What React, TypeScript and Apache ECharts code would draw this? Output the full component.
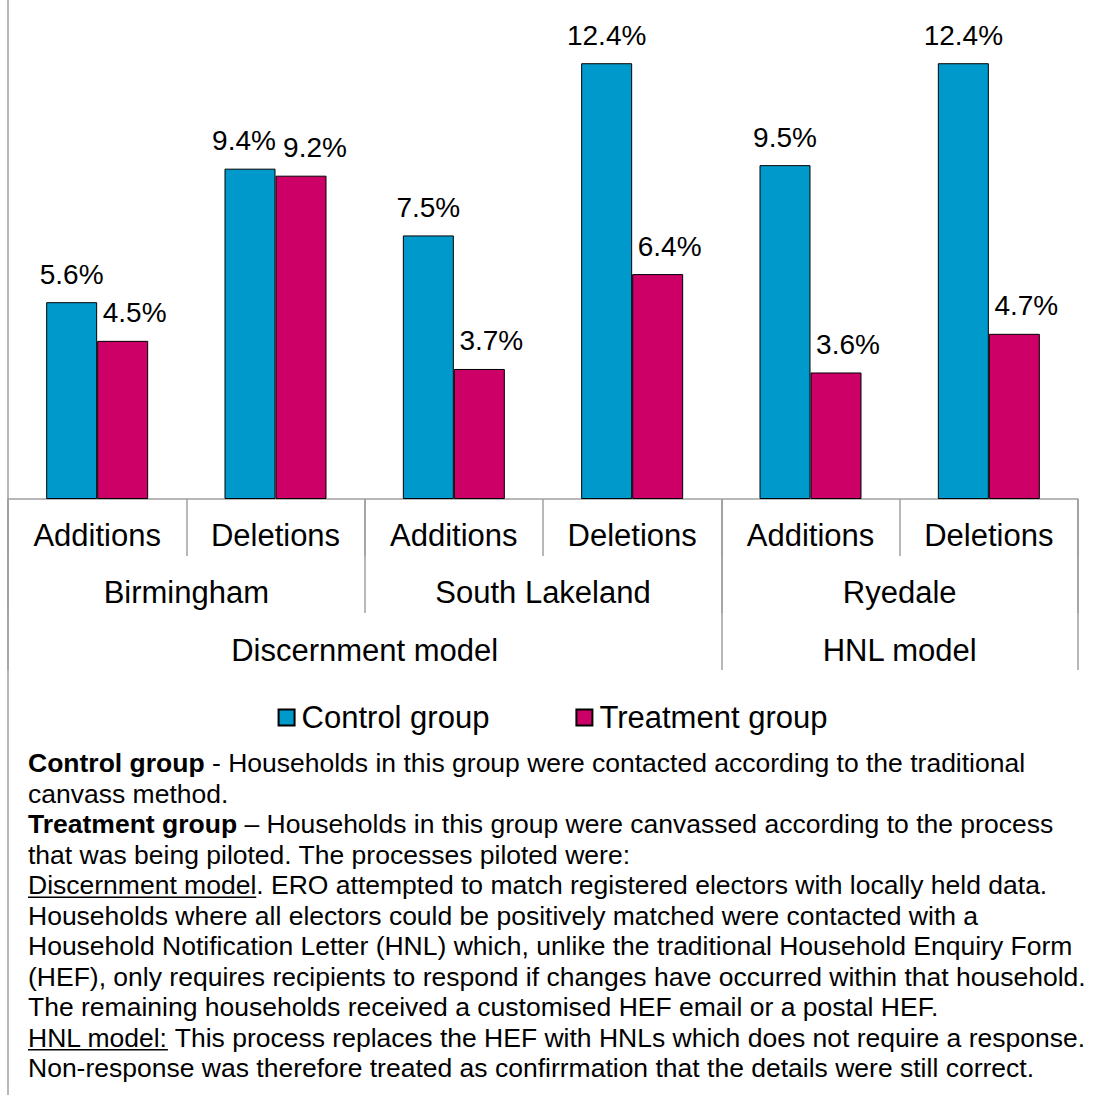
import { useEffect, useRef } from "react";
import * as echarts from "echarts";

// Category levels (innermost first)
const categories = ["Additions", "Deletions", "Additions", "Deletions", "Additions", "Deletions"];
const regions = ["Birmingham", "South Lakeland", "Ryedale"];
const regionSpans = [2, 2, 2];
const models = ["Discernment model", "HNL model"];
const modelSpans = [4, 2];

// Share of records changed (%)
const seriesNames = ["Control group", "Treatment group"];
const controlGroup = [5.6, 9.4, 7.5, 12.4, 9.5, 12.4];
const treatmentGroup = [4.5, 9.2, 3.7, 6.4, 3.6, 4.7];

// Explanatory notes: each line is a list of [style, text] runs
const notes: [string, string][][] = [
  [["b", "Control group"], ["n", " - Households in this group were contacted according to the traditional"]],
  [["n", "canvass method."]],
  [["b", "Treatment group"], ["n", " \u2013 Households in this group were canvassed according to the process"]],
  [["n", "that was being piloted. The processes piloted were:"]],
  [["u", "Discernment model"], ["n", ". ERO attempted to match registered electors with locally held data."]],
  [["n", "Households where all electors could be positively matched were contacted with a"]],
  [["n", "Household Notification Letter (HNL) which, unlike the traditional Household Enquiry Form"]],
  [["n", "(HEF), only requires recipients to respond if changes have occurred within that household."]],
  [["n", "The remaining households received a customised HEF email or a postal HEF."]],
  [["u", "HNL model:"], ["n", " This process replaces the HEF with HNLs which does not require a response."]],
  [["n", "Non-response was therefore treated as confirrmation that the details were still correct."]],
];

const FONT = '"Liberation Sans", Arial, Helvetica, sans-serif';
const AXIS_COLOR = "#a0a0a0";
const BODY_SIZE = 26.5;
const BODY_LINE = 30.5;
const BODY_X = 28;
const BODY_FIRST_CENTER = 763;

function boundaries(spans: number[]): number[] {
  const out = [0];
  spans.forEach((s) => out.push(out[out.length - 1] + s));
  return out;
}
function centers(spans: number[]): number[] {
  const b = boundaries(spans);
  return spans.map((s, i) => b[i] + s / 2);
}

export default function App() {
  const ref = useRef<HTMLDivElement>(null);

  useEffect(() => {
    if (!ref.current) return;
    const chart = echarts.init(ref.current, undefined, { renderer: "svg" });

    const axisLine = { color: AXIS_COLOR, width: 1.5 };
    const regionTicks = boundaries(regionSpans);
    const regionMid = centers(regionSpans);
    const modelTicks = boundaries(modelSpans);
    const modelMid = centers(modelSpans);

    const ctx = document.createElement("canvas").getContext("2d")!;
    ctx.font = `${BODY_SIZE}px ${FONT}`;

    const rich = {
      n: { fontSize: BODY_SIZE, fontFamily: FONT, lineHeight: BODY_LINE, fill: "#000" },
      u: { fontSize: BODY_SIZE, fontFamily: FONT, lineHeight: BODY_LINE, fill: "#000" },
      b: { fontSize: BODY_SIZE, fontFamily: FONT, lineHeight: BODY_LINE, fill: "#000", fontWeight: "bold" },
    };

    const noteElements: any[] = [];
    notes.forEach((runs, i) => {
      const cy = BODY_FIRST_CENTER + i * BODY_LINE;
      noteElements.push({
        type: "text",
        x: BODY_X,
        y: cy,
        style: {
          text: runs.map(([s, t]) => `{${s}|${t}}`).join(""),
          rich,
          verticalAlign: "middle",
          align: "left",
        },
      });
      let x = BODY_X;
      runs.forEach(([s, t]) => {
        const w = ctx.measureText(t).width;
        if (s === "u") {
          const uy = cy + BODY_SIZE * 0.3465 + 3;
          noteElements.push({
            type: "line",
            shape: { x1: x, y1: uy, x2: x + w, y2: uy },
            style: { stroke: "#000", lineWidth: 1.5 },
          });
        }
        x += w;
      });
    });

    const labelStyle = {
      show: true,
      position: "top",
      distance: 14,
      fontSize: 28,
      color: "#000",
      fontFamily: FONT,
      formatter: (p: any) => `${Number(p.value).toFixed(1)}%`,
    };

    // When the pair of bars is nearly level, push the two labels apart
    const close = controlGroup.map((c, i) => Math.abs(c - treatmentGroup[i]) < 0.5);
    const controlData = controlGroup.map((v, i) => ({
      value: v,
      label: { offset: close[i] ? [-6, 0] : [0, 0] },
    }));
    const treatmentData = treatmentGroup.map((v, i) => ({
      value: v,
      label: { offset: close[i] ? [14, 0] : [12, 0] },
    }));

    chart.setOption({
      animation: false,
      textStyle: { fontFamily: FONT },
      grid: { left: 8, right: 27, top: 7, bottom: 596, containLabel: false },
      legend: {
        data: seriesNames,
        top: 697,
        left: "center",
        icon: "rect",
        itemWidth: 16,
        itemHeight: 16,
        itemGap: 86,
        textStyle: { fontSize: 31, color: "#000", fontFamily: FONT, padding: [0, 0, 0, 2] },
      },
      xAxis: [
        {
          type: "category",
          data: categories,
          position: "bottom",
          offset: 0,
          axisLine: { show: true, lineStyle: axisLine },
          axisTick: { show: true, interval: 0, length: 57, lineStyle: axisLine },
          axisLabel: { interval: 0, margin: 21, fontSize: 31, color: "#000", fontFamily: FONT },
          splitLine: { show: false },
        },
        {
          type: "value",
          min: 0,
          max: categories.length,
          position: "bottom",
          offset: 0,
          axisLine: { show: false },
          splitLine: { show: false },
          axisTick: { show: true, length: 114, customValues: regionTicks, lineStyle: axisLine },
          axisLabel: {
            customValues: regionMid,
            formatter: (v: number) => regions[regionMid.indexOf(v)] ?? "",
            margin: 78,
            fontSize: 31,
            color: "#000",
            fontFamily: FONT,
          },
        },
        {
          type: "value",
          min: 0,
          max: categories.length,
          position: "bottom",
          offset: 0,
          axisLine: { show: false },
          splitLine: { show: false },
          axisTick: { show: true, length: 171, customValues: modelTicks, lineStyle: axisLine },
          axisLabel: {
            customValues: modelMid,
            formatter: (v: number) => models[modelMid.indexOf(v)] ?? "",
            margin: 136,
            fontSize: 31,
            color: "#000",
            fontFamily: FONT,
          },
        },
      ],
      yAxis: { type: "value", min: 0, max: 14, show: false },
      series: [
        {
          name: seriesNames[0],
          type: "bar",
          xAxisIndex: 0,
          data: controlData,
          barWidth: 51,
          barGap: "0%",
          itemStyle: { color: "#0099CC", borderColor: "#000", borderWidth: 1 },
          label: labelStyle,
        },
        {
          name: seriesNames[1],
          type: "bar",
          xAxisIndex: 0,
          data: treatmentData,
          barWidth: 51,
          barGap: "0%",
          itemStyle: { color: "#CC0066", borderColor: "#000", borderWidth: 1 },
          label: labelStyle,
        },
      ],
      graphic: [
        {
          type: "line",
          shape: { x1: 8, y1: 0, x2: 8, y2: 1095 },
          style: { stroke: AXIS_COLOR, lineWidth: 1.5 },
        },
        ...noteElements,
      ],
    });

    return () => chart.dispose();
  }, []);

  return (
    <div
      ref={ref}
      style={{ position: "absolute", left: 0, top: 0, width: 1105, height: 1095, background: "#fff" }}
    />
  );
}
